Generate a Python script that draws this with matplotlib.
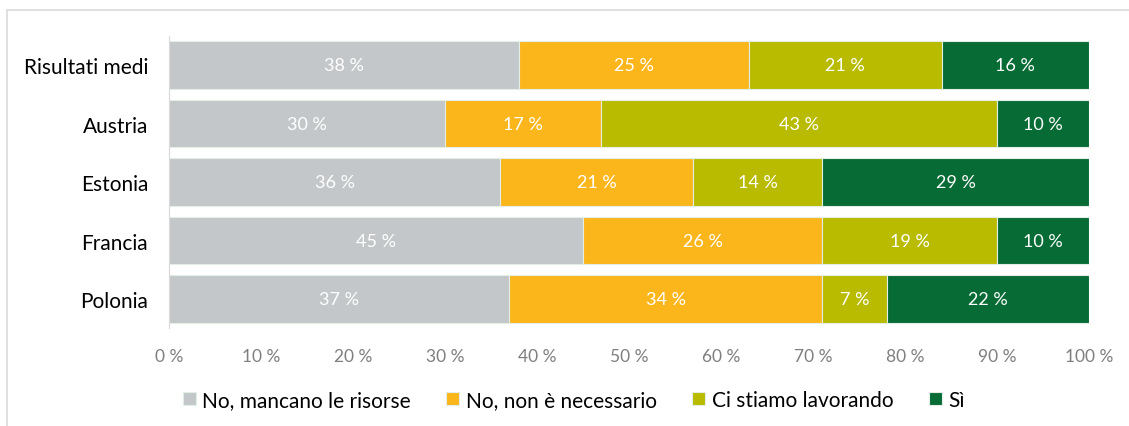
import matplotlib.pyplot as plt
from matplotlib.patches import Rectangle

plt.rcParams['font.family'] = ['Lato', 'DejaVu Sans']

categories = ['Risultati medi', 'Austria', 'Estonia', 'Francia', 'Polonia']
series_names = ['No, mancano le risorse', 'No, non è necessario', 'Ci stiamo lavorando', 'Sì']
no_risorse = [38, 30, 36, 45, 37]
no_necessario = [25, 17, 21, 26, 34]
lavorando = [21, 43, 14, 19, 7]
si = [16, 10, 29, 10, 22]
colors = ['#C3C7C9', '#FBB61C', '#B8BB00', '#066B35']

fig = plt.figure(figsize=(11.29, 4.27), dpi=100)
ax = fig.add_axes([0.1497, 0.2289, 0.8149, 0.685])

# light frame around the chart
fig.patches.append(Rectangle((7 / 1129, -0.1), 1.2, 1 - 11 / 427 + 0.1, transform=fig.transFigure,
                             fill=False, edgecolor='#D9D9D9', linewidth=1.2))

y = list(range(len(categories)))
left = [0] * len(categories)
for vals, name, col in zip([no_risorse, no_necessario, lavorando, si], series_names, colors):
    bars = ax.barh(y, vals, left=left, height=0.82, color=col, edgecolor='#E3EFE6', linewidth=0.8, label=name)
    for b, v, l in zip(bars, vals, left):
        ax.text(l + v / 2, b.get_y() + b.get_height() / 2, f'{v} %', ha='center', va='center',
                color='white', fontsize=13)
    left = [a + b for a, b in zip(left, vals)]

ax.set_xlim(0, 100)
ax.set_ylim(4.5, -0.5)
ax.set_yticks(y)
ax.set_yticklabels(categories, fontsize=15, color='black')
ax.set_xticks(range(0, 101, 10))
ax.set_xticklabels([f'{t} %' for t in range(0, 101, 10)], fontsize=12.5, color='#7F7F7F')
ax.tick_params(axis='both', length=0)
ax.tick_params(axis='x', pad=14)
ax.tick_params(axis='y', pad=15)
for s in ['top', 'right', 'bottom']:
    ax.spines[s].set_visible(False)
ax.spines['left'].set_color('#D9D9D9')

ax.legend(loc='center', bbox_to_anchor=(0.44, -0.245), ncol=4, frameon=False, fontsize=15,
          handlelength=0.62, handleheight=0.62, handletextpad=0.3, columnspacing=1.72)

fig.savefig('out.png', dpi=100)
